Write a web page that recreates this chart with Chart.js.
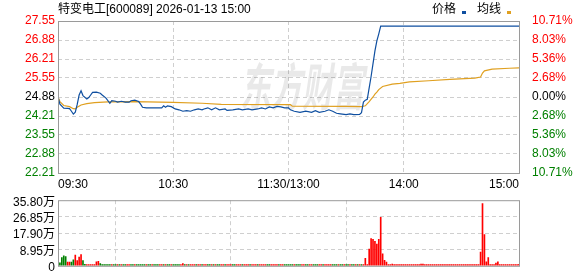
<!DOCTYPE html>
<html><head><meta charset="utf-8">
<script src="https://cdn.jsdelivr.net/npm/chart.js@4/dist/chart.umd.min.js"></script>
<style>
html,body{margin:0;padding:0;background:#fff;}
#wrap{position:relative;width:578px;height:276px;overflow:hidden;font-family:"Liberation Sans","Noto Sans CJK SC",sans-serif;}
#title{position:absolute;left:58px;top:1px;font-size:12px;line-height:16px;color:#000;white-space:nowrap;}
#legend{position:absolute;left:432px;top:1px;font-size:12px;line-height:16px;color:#000;white-space:nowrap;}
.mk{display:inline-block;width:4px;height:3px;vertical-align:-1px;margin:0 11px 0 6px;}
#c1{position:absolute;left:0;top:0;}
#c2{position:absolute;left:0;top:190px;}
</style></head>
<body><div id="wrap">
<canvas id="c1" width="578" height="195"></canvas>
<canvas id="c2" width="578" height="86"></canvas>
<div id="title">特变电工[600089] 2026-01-13 15:00</div>
<div id="legend">价格<span class="mk" style="background:#0f4fa0"></span>均线<span class="mk" style="background:#e0a020"></span></div>
</div>
<script>
// ---- data (minute index 0..240 from 09:30 to 15:00) ----
const timeLabels = ['09:30','10:30','11:30/13:00','14:00','15:00'];
const timeTickMinutes = [0,60,120,180,240];
const priceTicks = ['22.21','22.88','23.55','24.21','24.88','25.55','26.21','26.88','27.55'];
const pctTicks = ['10.71%','8.03%','5.36%','2.68%','0.00%','2.68%','5.36%','8.03%','10.71%'];
const volTicks = ['0','8.95万','17.90万','26.85万','35.80万'];
const volTickValues = [0,8.95,17.90,26.85,35.80];
const prevClose = 24.88;

const priceMin = [0,1,3,5,6,7,8,9,10,11,12,13,15,16,17,18,20,22,23,25,27,28,30,31,33,35,37,38,40,42,43,44,46,54,55,56,57,59,61,63,65,67,69,71,73,75,76,78,80,82,84,87,88,91,94,96,99,101,104,106,108,110,112,114,116,118,120,121,123,126,129,132,134,136,139,141,143,145,147,150,152,154,157,158,159,160,161,162,163,164,165,166,167,168,240];
const priceVal = [24.88,24.63,24.49,24.48,24.47,24.38,24.28,24.35,24.62,24.95,25.10,24.93,24.81,24.86,24.95,25.04,25.05,25.01,24.95,24.84,24.66,24.75,24.73,24.70,24.73,24.70,24.70,24.75,24.77,24.72,24.63,24.52,24.50,24.50,24.57,24.52,24.57,24.54,24.46,24.43,24.38,24.40,24.38,24.43,24.46,24.43,24.46,24.50,24.43,24.50,24.43,24.46,24.41,24.43,24.46,24.43,24.46,24.43,24.46,24.50,24.46,24.53,24.50,24.55,24.53,24.50,24.50,24.43,24.38,24.34,24.38,24.34,24.40,24.34,24.38,24.43,24.38,24.31,24.29,24.26,24.29,24.26,24.27,24.33,24.70,24.77,24.80,25.20,25.60,26.05,26.50,26.85,27.10,27.37,27.37];

const avgMin = [0,1,3,6,8,9,10,12,15,19,26,40,60,75,85,121,122,150,158,160,162,164,165,166,167,169,174,178,183,193,204,217,220,221,222,226,235,240];
const avgVal = [24.88,24.72,24.58,24.54,24.47,24.46,24.52,24.60,24.65,24.68,24.71,24.72,24.69,24.66,24.62,24.61,24.56,24.55,24.54,24.57,24.72,24.88,24.98,25.05,25.14,25.25,25.33,25.36,25.41,25.45,25.50,25.54,25.58,25.72,25.80,25.86,25.89,25.90];

// volume per minute, in 万
const volume = [
 0.5,1.6,4.5,5.5,5.0,2.0,2.0,2.0,3.3,5.8,
 2.8,4.8,6.1,2.8,0.8,0.6,0.6,0.6,0.6,0.6,
 2.2,2.5,1.2,0.6,0.6,0.6,0.6,0.6,0.6,0.6,
 0.6,0.6,0.6,0.6,0.6,0.6,0.6,0.6,0.6,0.6,
 0.6,0.6,0.6,0.6,0.6,0.6,0.6,0.6,0.6,0.6,
 0.6,0.6,0.6,0.6,0.6,0.6,0.6,0.6,0.6,0.6,
 0.6,0.6,0.6,0.6,0.6,1.2,0.6,0.6,0.6,0.6,
 0.6,0.6,0.6,0.6,0.6,0.6,0.6,0.6,0.6,0.6,
 0.6,0.6,0.6,0.6,0.6,0.6,0.6,0.6,0.6,0.6,
 0.6,0.6,0.6,0.6,0.6,0.6,0.6,0.6,0.6,0.6,
 0.6,0.6,0.6,0.6,0.6,0.6,0.6,0.6,0.6,0.6,
 0.6,0.6,0.6,0.6,0.6,0.6,0.6,0.6,0.6,0.6,
 0.6,0.6,0.6,0.6,0.6,0.6,0.6,0.6,0.6,0.6,
 0.6,0.6,0.6,0.6,0.6,0.6,0.6,0.6,0.6,0.6,
 0.6,0.6,0.6,0.6,0.6,0.6,0.6,0.6,0.6,0.6,
 0.6,0.6,0.6,0.6,0.6,0.6,0.6,0.6,0.6,0.6,
 4.1,0.6,9.1,14.9,14.4,13.4,11.9,14.4,26.4,6.5,
 3.0,2.0,0.6,0.6,1.0,0.6,0.6,0.6,0.6,0.6,
 0.6,0.6,0.6,0.6,0.6,0.6,0.6,0.6,0.6,1.0,
 1.0,0.6,0.6,0.6,0.6,0.6,0.6,0.6,0.6,0.6,
 0.6,0.6,0.6,0.6,0.6,0.6,0.6,0.6,0.6,0.6,
 0.6,0.6,0.6,0.6,0.6,0.6,0.6,0.6,0.6,0.6,
 7.5,34.0,17.0,2.2,4.5,0.6,0.6,0.6,1.5,2.2,
 0.6,0.6,0.6,0.6,0.6,0.6,0.6,0.6,0.6,0.6,
 0.8];
// r = up minute (red), g = down minute (green)
const volDir =
 'gggggrrggr'+'rrrggrrrrr'+'rrggggggrg'+'grgrggrrgg'+'rgggggrggr'+
 'gggrrgrggr'+'ggggrrgrgr'+'rrgrrgrrgg'+'rgrggrrgrr'+'rggrrrgrrr'+
 'grrrgrrrrg'+'grrrrgrrgg'+'gggrgggrrg'+'grrgggrrgr'+'rrrgggrggr'+
 'ggrggrgrgr'+'rrrrrrrrrr'+'rrrrrrrrrr'+'rrrrrrrrrr'+'rrrrrrrrrr'+
 'rrrrrrrrrr'+'rrrrrrrrrr'+'rrrrrrrrrr'+'rrrrrrrrrr'+'r';

// ---- styles ----
const BLUE='#0f4fa0', ORANGE='#e0a020', RED='#ff0000', GREEN='#008000', GRID='#cfcfcf', FRAME='#9a9a9a';
Chart.defaults.font.family = "'Liberation Sans','Noto Sans CJK SC',sans-serif";
Chart.defaults.font.size = 12;
Chart.defaults.color = '#000';

const frame = {
  id:'frame',
  afterDraw(chart){
    const a = chart.chartArea, c = chart.ctx;
    c.save(); c.strokeStyle = FRAME; c.lineWidth = 1;
    c.strokeRect(a.left+0.5, a.top+0.5, a.right-a.left, a.bottom-a.top);
    c.restore();
  }
};
const watermark = {
  id:'watermark',
  beforeDatasetsDraw(chart){
    const c = chart.ctx;
    c.save();
    c.fillStyle = 'rgba(0,0,0,0.085)';
    c.font = "italic bold 31px 'Noto Sans CJK SC'";
    c.textAlign = 'center'; c.textBaseline = 'middle';
    c.translate(302, 87); c.scale(1, 1.65);
    c.fillText('东方财富', 0, 0);
    c.restore();
  }
};
const levelColor = v => v > prevClose + 0.001 ? RED : (v < prevClose - 0.001 ? GREEN : '#000');
const dashedGrid = (n) => ({
  color: ctx => (ctx.index === 0 || ctx.index === n) ? 'rgba(0,0,0,0)' : GRID,
  drawTicks:false, lineWidth:1
});

new Chart(document.getElementById('c1'), {
  type:'line',
  data:{ datasets:[
    { label:'价格', data: priceMin.map((m,i)=>({x:m, y:priceVal[i]})), borderColor:BLUE, borderWidth:1.2, pointRadius:0, tension:0, order:0 },
    { label:'均线', data: avgMin.map((m,i)=>({x:m, y:avgVal[i]})), borderColor:ORANGE, borderWidth:1.2, pointRadius:0, tension:0, order:1 }
  ]},
  options:{
    responsive:false, animation:false, events:[],
    layout:{ padding:{top:21, left:0, right:0, bottom:0} },
    plugins:{ legend:{display:false}, tooltip:{enabled:false} },
    scales:{
      x:{ type:'linear', min:0, max:240,
        grid: dashedGrid(4), border:{display:false, dash:[4,3]},
        afterBuildTicks: s => { s.ticks = timeTickMinutes.map(v=>({value:v})); },
        afterFit: s => { s.height = 22; },
        ticks:{ align:'inner', maxRotation:0, autoSkip:false, padding:4, color:'#000',
          callback:(v,i)=>timeLabels[i] } },
      y:{ position:'left', min:22.21, max:27.55,
        grid: dashedGrid(8), border:{display:false, dash:[4,3]},
        afterBuildTicks: s => { s.ticks = priceTicks.map(t=>({value:parseFloat(t)})); },
        afterFit: s => { s.width = 58; },
        ticks:{ padding:3, autoSkip:false, callback:(v,i)=>priceTicks[i],
          color: ctx => levelColor(parseFloat(priceTicks[ctx.index])) } },
      y2:{ position:'right', min:22.21, max:27.55,
        grid:{display:false}, border:{display:false},
        afterBuildTicks: s => { s.ticks = priceTicks.map(t=>({value:parseFloat(t)})); },
        afterFit: s => { s.width = 59; },
        ticks:{ padding:5, autoSkip:false, callback:(v,i)=>pctTicks[i],
          color: ctx => levelColor(parseFloat(priceTicks[ctx.index])) } }
    }
  },
  plugins:[watermark, frame]
});

new Chart(document.getElementById('c2'), {
  type:'bar',
  data:{ datasets:[
    { data: volume.map((v,i)=>({x:i, y:v})),
      backgroundColor: volume.map((v,i)=> volDir[i]==='r' ? RED : GREEN),
      barThickness:1, borderWidth:0 }
  ]},
  options:{
    responsive:false, animation:false, events:[],
    layout:{ padding:{top:6, left:0, right:59, bottom:7} },
    plugins:{ legend:{display:false}, tooltip:{enabled:false} },
    scales:{
      x:{ type:'linear', min:0, max:240, offset:false,
        grid: dashedGrid(4), border:{display:false, dash:[4,3]},
        afterBuildTicks: s => { s.ticks = timeTickMinutes.map(v=>({value:v})); },
        afterFit: s => { s.height = 0; },
        ticks:{ display:false } },
      y:{ position:'left', min:0, max:35.80,
        grid: dashedGrid(4), border:{display:false, dash:[4,3]},
        afterBuildTicks: s => { s.ticks = volTickValues.map(v=>({value:v})); },
        afterFit: s => { s.width = 58; },
        ticks:{ padding:3, autoSkip:false, labelOffset:2, color:'#000', callback:(v,i)=>volTicks[i] } }
    }
  },
  plugins:[frame]
});
</script>
</body></html>
